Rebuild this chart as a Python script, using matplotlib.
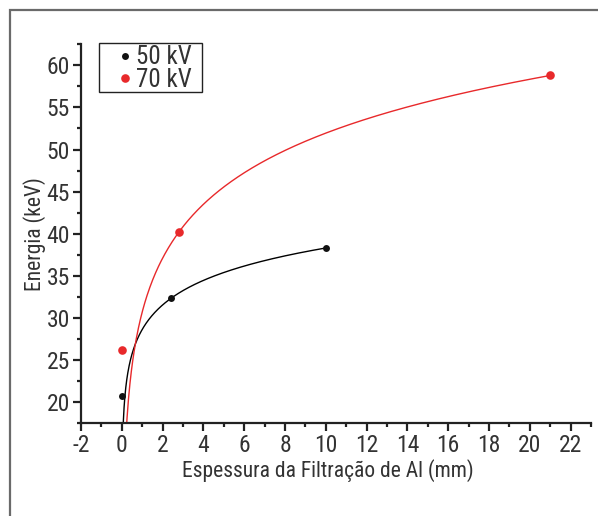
import numpy as np
import matplotlib.pyplot as plt
from matplotlib.patches import Rectangle
from matplotlib.ticker import MultipleLocator

# Data
x_50kv = [0.0, 2.4, 10.0]
y_50kv = [20.7, 32.3, 38.3]
x_70kv = [0.0, 2.8, 21.0]
y_70kv = [26.2, 40.2, 58.8]

plt.rcParams['font.family'] = ['Roboto Condensed', 'DejaVu Sans']
plt.rcParams['axes.unicode_minus'] = False
text_color = '#333333'
red = '#e8292b'

fig = plt.figure(figsize=(5.98, 5.16), dpi=100)
ax = fig.add_axes([0.1355, 0.1802, 0.8528, 0.7339])

# Outer gray frame
fig.patches.append(Rectangle((10 / 598, -0.01), 1.0, 1 - 10 / 516 + 0.01,
                             transform=fig.transFigure, fill=False,
                             edgecolor='#6a6a6a', linewidth=1.6))


def log_fit(xs, ys, x_end):
    # y = a + b ln(x) fitted to the non-zero points
    xs = np.array(xs)
    ys = np.array(ys)
    mask = xs > 0
    b, a = np.polyfit(np.log(xs[mask]), ys[mask], 1)
    xx = np.linspace(0.01, x_end, 600)
    return xx, a + b * np.log(xx)


xx, yy = log_fit(x_50kv, y_50kv, x_50kv[-1])
ax.plot(xx, yy, color='black', linewidth=1.0)
xx, yy = log_fit(x_70kv, y_70kv, x_70kv[-1])
ax.plot(xx, yy, color=red, linewidth=1.0)

ax.plot(x_50kv, y_50kv, 'o', color='#111111', markersize=5, label='50 kV',
        markeredgewidth=0)
ax.plot(x_70kv, y_70kv, 'o', color=red, markersize=6.2, label='70 kV',
        markeredgewidth=0)

ax.set_xlim(-2, 23)
ax.set_ylim(17.5, 62.5)
ax.xaxis.set_major_locator(MultipleLocator(2))
ax.xaxis.set_minor_locator(MultipleLocator(1))
ax.yaxis.set_major_locator(MultipleLocator(5))
ax.yaxis.set_minor_locator(MultipleLocator(2.5))
ax.set_yticks([20, 25, 30, 35, 40, 45, 50, 55, 60])

for side in ['top', 'right']:
    ax.spines[side].set_visible(False)
for side in ['left', 'bottom']:
    ax.spines[side].set_linewidth(1.6)
    ax.spines[side].set_color('#222222')

ax.tick_params(which='major', length=6, width=1.6, color='#222222',
               labelsize=17, labelcolor=text_color, pad=2)
ax.tick_params(which='minor', length=3, width=1.6, color='#222222')

ax.set_xlabel('Espessura da Filtração de Al (mm)', fontsize=15.5,
              color=text_color, labelpad=3)
ax.xaxis.set_label_coords(0.485, -0.095)
ax.set_ylabel('Energia (keV)', fontsize=15.5, color=text_color, labelpad=0)

# Legend without frame; the box is drawn separately to get its wide padding
leg = ax.legend(loc='upper left', bbox_to_anchor=(0.0735, 0.997),
                fontsize=18, frameon=False,
                handlelength=0.55, handletextpad=0.15, borderpad=0,
                labelspacing=-0.05, borderaxespad=0)
for t in leg.get_texts():
    t.set_color(text_color)
ax.add_patch(Rectangle((0.0353, 0.873), 0.2017, 0.130, transform=ax.transAxes,
                       fill=False, edgecolor='#222222', linewidth=1.0,
                       clip_on=False))

fig.savefig('out.png', dpi=100)
